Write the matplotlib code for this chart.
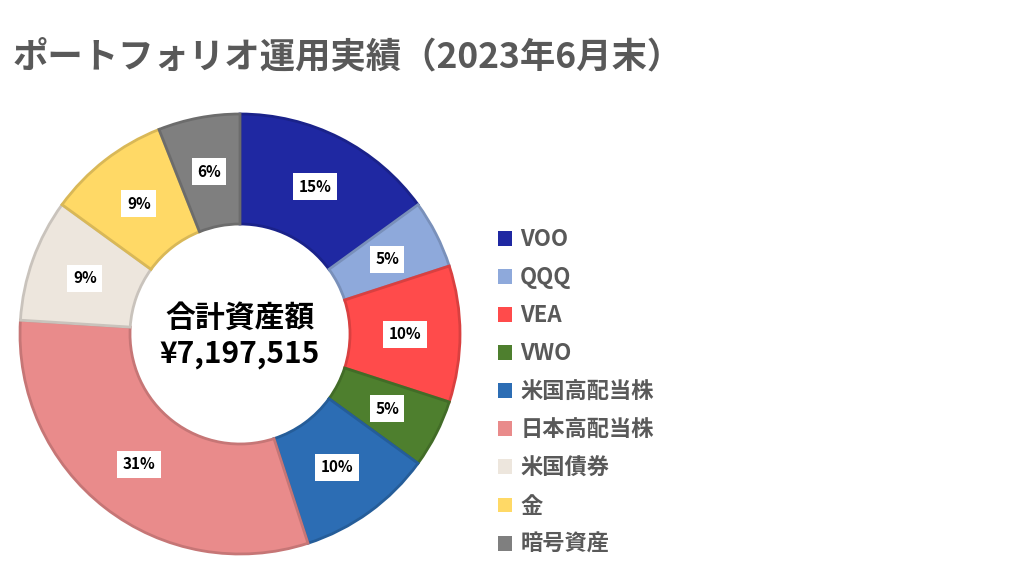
import matplotlib
matplotlib.use('Agg')
import matplotlib.pyplot as plt
from matplotlib.patches import Patch
from matplotlib.colors import to_rgb

plt.rcParams['font.family'] = ['Noto Sans CJK JP', 'DejaVu Sans']

labels = ['VOO', 'QQQ', 'VEA', 'VWO', '米国高配当株', '日本高配当株', '米国債券', '金', '暗号資産']
shares = [15, 5, 10, 5, 10, 31, 9, 9, 6]
colors = ['#1F28A2', '#8EA9DB', '#FF4B4B', '#4E7F2E', '#2C6DB4',
          '#E98B8B', '#EDE6DD', '#FFD966', '#7F7F7F']
title = 'ポートフォリオ運用実績（2023年6月末）'
center_title = '合計資産額'
total = '¥7,197,515'

def darker(c, f=0.85):
    r, g, b = to_rgb(c)
    return (r * f, g * f, b * f)

fig = plt.figure(figsize=(10.24, 5.76), dpi=100)
ax = fig.add_axes([20 / 1024, (576 - 334 - 220) / 576, 440 / 1024, 440 / 576])

wedges, texts, autotexts = ax.pie(
    shares, colors=colors, startangle=90, counterclock=False,
    autopct='%d%%', pctdistance=0.75, radius=1,
    wedgeprops=dict(width=0.5, linewidth=2))
for w, c in zip(wedges, colors):
    w.set_edgecolor(darker(c))
for t in autotexts:
    t.set_fontsize(11)
    t.set_fontweight('bold')
    t.set_color('black')
    t.set_bbox(dict(facecolor='white', edgecolor='none', pad=4))
ax.set_xlim(-1, 1)
ax.set_ylim(-1, 1)
ax.set_aspect('equal')

ax.text(0, 0.075, center_title, ha='center', va='center', fontsize=21.5, fontweight='bold')
ax.text(0, -0.09, total, ha='center', va='center', fontsize=21.5, fontweight='bold')

fig.text(13 / 1024, 1 - 57 / 576, title, ha='left', va='center',
         fontsize=25.5, fontweight='bold', color='#595959')

handles = [Patch(facecolor=c, edgecolor='none') for c in colors]
leg = fig.legend(handles, labels, loc='upper left', bbox_to_anchor=(478 / 1024, 1 - 208 / 576),
                 frameon=False, fontsize=16, labelspacing=0.68, handlelength=0.65,
                 handleheight=0.65, handletextpad=0.35)
for t in leg.get_texts():
    t.set_color('#595959')
    t.set_fontweight('bold')

fig.savefig('out.png', dpi=100)
